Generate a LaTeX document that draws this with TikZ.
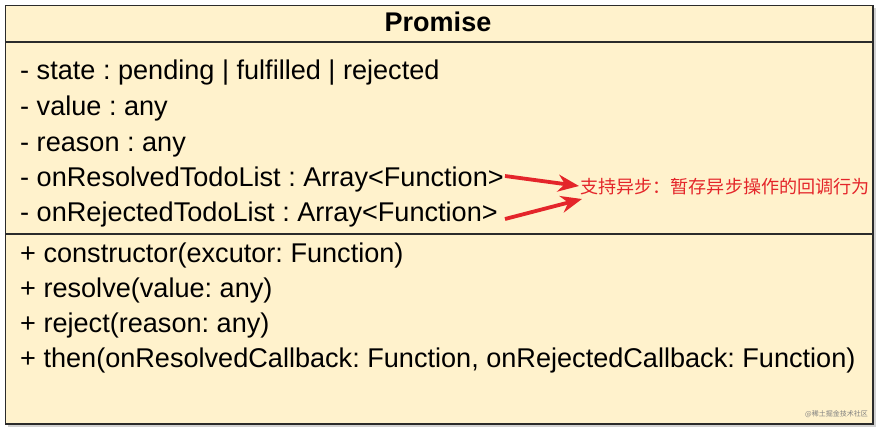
\documentclass[tikz,border=0pt]{standalone}
\usepackage{fontspec}
\setmainfont{Liberation Sans}
\newfontfamily\cjk{Noto Sans CJK SC}
\usetikzlibrary{arrows.meta}
\frenchspacing
\definecolor{boxfill}{HTML}{FFF2CC}
\definecolor{boxline}{HTML}{2B2B2B}
\definecolor{notered}{HTML}{E4252A}
\tikzset{
  member/.style={anchor=base west, inner sep=0pt, font=\fontsize{27.1}{30}\selectfont, text=black},
  titletext/.style={anchor=base, inner sep=0pt, font=\fontsize{27}{30}\selectfont\bfseries},
  note/.style={anchor=west, inner sep=0pt, text=notered, font=\cjk\fontsize{18.1}{20}\selectfont},
  redarrow/.style={draw=notered, line width=3.8pt, -{Stealth[length=21pt,width=17pt]}},
  wmtext/.style={anchor=east, inner sep=0pt, text=gray, font=\cjk\fontsize{7}{8}\selectfont}
}
\begin{document}
\begin{tikzpicture}[x=1pt,y=-1pt]
\useasboundingbox (0,0) rectangle (877,429);
\fill[white] (0,0) rectangle (877,429);
\fill[gray!35] (8,8) rectangle (875.5,427);
\filldraw[fill=boxfill, draw=boxline, line width=1.8pt] (5.5,5.5) rectangle (873,424);
\draw[boxline, line width=1.8pt] (5.5,42) -- (873,42);
\draw[boxline, line width=1.8pt] (5.5,234) -- (873,234);
\node[titletext] (title) at (438,31.5) {Promise};
\node[member] (state) at (20,79) {- state : pending | fulfilled | rejected};
\node[member] (value) at (20,115) {- value : any};
\node[member] (reason) at (20,151) {- reason : any};
\node[member] (resolvedlist) at (20,186) {- onResolvedTodoList : Array<Function>};
\node[member] (rejectedlist) at (20,221) {- onRejectedTodoList : Array<Function>};
\node[member] (ctor) at (20,262) {+ constructor(excutor: Function)};
\node[member] (resolve) at (20,297) {+ resolve(value: any)};
\node[member] (reject) at (20,332) {+ reject(reason: any)};
\node[member] (then) at (20,367) {+ then(onResolvedCallback: Function, onRejectedCallback: Function)};
\node[note] (note) at (580,187) {支持异步：暂存异步操作的回调行为};
\coordinate (a1s) at (505,176);
\coordinate (a1e) at (579,186);
\coordinate (a2s) at (505,219);
\coordinate (a2e) at (582,199);
\draw[redarrow] (a1s) -- (a1e);
\draw[redarrow] (a2s) -- (a2e);
\node[wmtext] (wm) at (868,414) {@稀土掘金技术社区};
\end{tikzpicture}
\end{document}
